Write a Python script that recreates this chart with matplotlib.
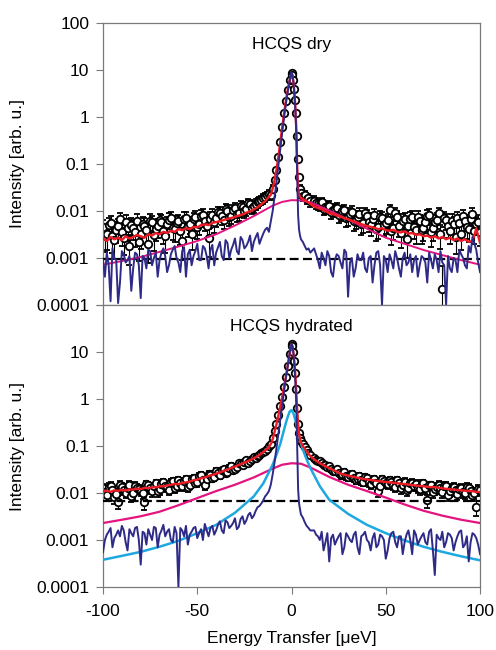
import matplotlib
matplotlib.use("Agg")
import matplotlib.pyplot as plt
import numpy as np

plt.rcParams["font.family"] = ["Liberation Sans", "DejaVu Sans"]
plt.rcParams["font.size"] = 12.5
plt.rcParams["axes.unicode_minus"] = False

# energy grid of the spectra (ueV): 2 ueV steps in the wings, finer at the elastic line
energy = np.concatenate([
    np.arange(-100, -11, 2), np.arange(-11, 0, 1), np.arange(0, 5.5, 0.5),
    np.arange(6, 11, 1), np.arange(12, 101, 2),
])
# the interleaved odd channels of the wings (-99 .. -13 and 13 .. 99)
energy_odd = np.concatenate([np.arange(-99, -12, 2), np.arange(13, 100, 2)])

# ---- HCQS dry: wings in units of 1e-3, centre (-11 .. 10 ueV) absolute ----
dry_data_left = [4.5, 3.2, 5.5, 2.4, 4.8, 3.6, 5.9, 1.8, 4.4, 6.2,
                 3.3, 4.9, 2.0, 5.7, 4.2, 6.4, 3.8, 5.2, 7.0, 4.1,
                 6.0, 2.3, 7.2, 5.4, 6.8, 4.6, 7.9, 6.1, 2.6, 8.3,
                 7.0, 9.1, 6.5, 10.2, 8.0, 11.3, 9.0, 12.4, 10.8, 13.9,
                 12.6, 15.5, 17.0, 19.8, 23.0]
dry_data_mid = [0.022, 0.030, 0.045, 0.075, 0.14, 0.30, 0.62, 1.2, 2.2, 3.8, 6.0,
                8.6, 7.9, 6.1, 4.0, 2.3, 1.2, 0.40, 0.13, 0.052, 0.030, 0.024,
                0.021, 0.022, 0.018, 0.019, 0.016]
dry_data_right = [16.5, 14.0, 15.2, 12.1, 13.0, 10.4, 11.8, 8.9, 10.5, 7.4,
                  9.6, 6.5, 8.7, 5.6, 7.9, 5.0, 8.3, 4.6, 7.2, 5.5,
                  10.5, 4.4, 7.5, 3.4, 6.6, 4.8, 7.3, 3.9, 6.0, 4.3,
                  7.8, 3.5, 5.9, 9.0, 0.22, 6.3, 3.8, 5.4, 7.1, 3.2,
                  6.0, 4.1, 8.6, 5.2, 3.6]
dry_data_odd_left = [3.0, 5.1, 2.9, 4.0, 6.6, 2.7, 4.3, 5.0, 3.5, 2.2,
                     5.4, 3.9, 6.1, 3.1, 4.7, 5.8, 2.9, 6.5, 4.4, 5.6,
                     3.7, 6.9, 4.9, 3.2, 7.6, 5.3, 8.4, 4.8, 6.9, 5.7,
                     9.4, 7.7, 11.0, 7.3, 10.6, 8.6, 12.9, 10.0, 14.6, 11.8,
                     14.2, 16.4, 18.5, 21.5]
dry_data_odd_right = [14.8, 13.6, 11.2, 12.4, 9.6, 11.0, 8.2, 9.9, 7.0, 8.8,
                      6.0, 7.4, 5.3, 9.0, 5.9, 6.8, 4.2, 7.6, 5.0, 6.4,
                      3.7, 8.9, 4.9, 6.1, 2.5, 6.9, 4.6, 7.4, 3.9, 5.7,
                      8.2, 4.3, 6.5, 3.3, 7.2, 4.8, 6.2, 2.8, 5.5, 8.0,
                      4.5, 6.8, 3.8, 5.9]

dry_fit_left = [2.6, 2.3, 2.8, 2.5, 2.7, 2.4, 2.9, 2.6, 2.8, 3.1,
                2.9, 2.7, 3.2, 3.0, 3.4, 3.2, 3.6, 3.4, 3.8, 3.6,
                4.1, 3.9, 4.3, 4.1, 4.6, 4.5, 5.0, 5.2, 5.0, 5.6,
                5.8, 6.1, 6.4, 6.8, 7.1, 7.5, 8.0, 8.4, 9.2, 9.8,
                10.8, 12.0, 13.8, 16.2, 20.0]
dry_fit_mid = [0.022, 0.030, 0.045, 0.075, 0.14, 0.28, 0.58, 1.15, 2.2, 3.8, 6.0,
               8.4, 7.6, 5.6, 3.4, 1.7, 0.6, 0.09, 0.030, 0.022, 0.020, 0.019,
               0.018, 0.017, 0.016, 0.015, 0.014]
dry_fit_right = [12.5, 11.6, 10.9, 10.0, 9.0, 8.6, 8.0, 7.6, 7.0, 6.7,
                 6.2, 5.9, 5.4, 5.1, 4.8, 4.6, 4.4, 4.1, 4.3, 3.9,
                 3.8, 4.0, 3.6, 3.5, 3.7, 3.3, 3.4, 3.1, 3.2, 2.9,
                 3.0, 2.7, 2.9, 2.6, 2.8, 2.5, 2.7, 2.4, 2.6, 2.3,
                 2.5, 2.2, 2.3, 4.2, 2.1]

dry_res_left = [0.9, 1.3, 0.12, 1.0, 0.11, 1.4, 0.8, 1.1, 0.6, 1.2,
                0.14, 1.0, 1.5, 0.7, 1.3, 0.9, 1.6, 0.5, 1.2, 1.8,
                0.8, 1.4, 0.4, 1.5, 1.1, 2.0, 0.9, 1.6, 0.6, 1.9,
                1.3, 2.2, 0.9, 2.1, 1.5, 2.6, 1.2, 2.4, 1.8, 3.0,
                2.2, 3.4, 2.6, 4.0, 3.6]
dry_res_mid = [0.006, 0.010, 0.020, 0.040, 0.09, 0.20, 0.45, 0.95, 1.9, 3.5, 6.0,
               9.0, 8.0, 5.5, 3.2, 1.5, 0.5, 0.06, 0.008, 0.004, 0.003, 0.0025,
               0.0022, 0.0018, 0.0015, 0.0016, 0.0013]
dry_res_right = [1.6, 0.9, 1.3, 0.7, 1.1, 0.4, 1.2, 0.8, 1.5, 0.15,
                 1.0, 0.6, 0.9, 1.3, 0.5, 1.1, 0.7, 1.4, 0.10, 0.9,
                 1.2, 0.6, 1.0, 0.4, 1.3, 0.8, 0.5, 1.1, 0.7, 1.0,
                 0.3, 0.9, 1.2, 0.5, 0.8, 0.10, 0.6, 1.0, 0.5, 1.2,
                 0.7, 1.8, 2.8, 1.5, 0.5]
dry_res_odd_left = [0.4, 0.7, 1.6, 0.9, 0.3, 1.2, 0.9, 0.2, 1.3, 0.7,
                    1.1, 0.6, 1.4, 1.0, 0.4, 1.3, 1.1, 0.7, 1.5, 1.0,
                    0.5, 1.7, 1.2, 0.7, 1.4, 0.9, 1.8, 1.1, 1.5, 0.7,
                    1.7, 1.1, 2.4, 1.0, 1.9, 1.4, 2.8, 1.6, 2.2, 1.4,
                    2.8, 2.0, 3.3, 4.4]
dry_res_odd_right = [1.2, 0.6, 1.0, 1.4, 0.5, 0.9, 1.1, 0.6, 1.3, 0.8,
                     0.4, 1.2, 0.9, 0.6, 1.0, 0.3, 1.3, 0.7, 1.1, 0.5,
                     0.9, 1.4, 0.6, 1.0, 0.7, 1.2, 0.9, 0.4, 1.1, 0.8,
                     1.3, 0.6, 0.9, 1.4, 0.7, 1.1, 0.5, 0.9, 1.5, 1.0,
                     0.6, 1.3, 2.0, 0.8]

# ---- HCQS hydrated ----
hyd_data_left = [12.5, 9.0, 14.0, 8.2, 6.5, 13.5, 10.2, 15.0, 9.8, 13.0,
                 11.2, 6.3, 14.5, 11.0, 16.2, 12.0, 17.0, 13.2, 16.8, 12.8,
                 18.5, 14.0, 19.5, 15.0, 21.0, 17.0, 24.0, 14.5, 26.0, 21.0,
                 29.0, 24.0, 32.0, 28.0, 38.0, 33.0, 43.0, 39.0, 50.0, 47.0,
                 58.0, 60.0, 72.0, 80.0, 98.0]
hyd_data_mid = [0.11, 0.15, 0.21, 0.30, 0.45, 0.70, 1.1, 1.8, 3.0, 5.0, 9.0,
                15.0, 13.5, 10.0, 6.5, 3.5, 1.6, 0.65, 0.30, 0.19, 0.15, 0.13,
                0.11, 0.095, 0.082, 0.072, 0.064]
hyd_data_right = [55, 49, 43, 39, 37, 30, 32, 24, 28, 22,
                  25, 19, 23, 17.5, 21, 15.5, 20, 11.0, 19.5, 16,
                  18.5, 14.5, 19, 12.5, 17.5, 13.0, 16.5, 15.5, 12.0, 16.0,
                  7.0, 14.5, 12.0, 15.0, 10.5, 14.0, 11.0, 13.5, 9.5, 12.5,
                  10.0, 13.0, 9.0, 5.0, 11.5]
hyd_data_odd_left = [10.5, 13.2, 11.8, 9.5, 14.8, 11.6, 12.6, 8.8, 14.0, 12.2,
                     10.0, 15.2, 12.5, 13.8, 10.9, 15.6, 14.2, 11.6, 17.8, 14.4,
                     16.0, 17.8, 13.6, 19.6, 16.5, 22.5, 18.8, 20.2, 24.5, 22.0,
                     27.0, 30.5, 27.0, 34.5, 31.0, 36.0, 41.0, 45.0, 44.0, 53.0,
                     56.0, 64.0, 76.0, 88.0]
hyd_data_odd_right = [51, 47, 40, 36, 33, 29, 27, 26, 23, 24,
                      21, 20, 18.5, 22, 17, 19, 16.5, 14.0, 18, 15.5,
                      17.5, 13.5, 16.5, 15, 11.5, 16, 14, 13, 15.5, 12.5,
                      14.5, 10.5, 13.5, 12.5, 14.0, 9.0, 13, 11.5, 12.0, 10.5,
                      13.5, 11.0, 10.0, 12.0]

hyd_fit_left = [10.8, 11.2, 10.6, 11.4, 11.1, 11.7, 11.3, 12.0, 11.8, 12.4,
                12.1, 12.9, 12.6, 13.3, 13.2, 14.0, 13.8, 14.6, 14.9, 15.6,
                15.4, 16.4, 16.8, 17.5, 18.6, 19.3, 20.6, 21.5, 23.0, 24.2,
                25.8, 27.5, 29.5, 31.5, 34.0, 36.5, 39.5, 42.5, 46.0, 50.0,
                55.0, 61.0, 69.0, 80.0, 95.0]
hyd_fit_mid = [0.11, 0.14, 0.20, 0.29, 0.44, 0.68, 1.08, 1.8, 3.0, 5.1, 9.0,
               14.6, 13.2, 9.8, 6.2, 3.4, 1.5, 0.62, 0.29, 0.18, 0.14, 0.12,
               0.10, 0.088, 0.077, 0.068, 0.061]
hyd_fit_right = [52, 46, 41, 37, 34, 31, 28.5, 26, 24.5, 23.5,
                 22.5, 21.5, 20.8, 20.0, 19.5, 19.0, 18.4, 18.0, 17.6, 17.2,
                 16.9, 16.5, 16.2, 15.8, 15.5, 15.1, 14.8, 14.4, 14.2, 13.9,
                 13.6, 13.3, 13.4, 12.9, 12.6, 12.3, 12.0, 11.9, 11.6, 11.4,
                 11.2, 11.0, 10.9, 10.6, 10.5]

hyd_res_left = [0.55, 1.3, 1.8, 1.1, 1.6, 2.0, 0.9, 1.7, 1.2, 1.9,
                0.30, 1.4, 1.7, 1.0, 1.8, 1.3, 2.1, 1.5, 1.0, 1.9,
                0.10, 1.6, 2.0, 1.3, 1.8, 1.1, 1.7, 2.2, 1.2, 2.0,
                1.6, 2.5, 1.4, 2.4, 2.0, 2.9, 1.9, 3.2, 2.6, 3.8,
                3.3, 5.0, 6.0, 8.5, 11.0]
hyd_res_mid = [0.015, 0.025, 0.045, 0.09, 0.18, 0.35, 0.7, 1.4, 2.8, 5.2, 9.5,
               15.0, 13.5, 9.5, 5.5, 2.5, 0.8, 0.1, 0.012, 0.006, 0.0045, 0.0035,
               0.0030, 0.0024, 0.0020, 0.0018, 0.0016]
hyd_res_right = [1.6, 1.2, 1.5, 0.9, 0.35, 1.3, 1.0, 1.4, 0.7, 1.2,
                 0.9, 1.5, 0.5, 1.3, 1.0, 0.6, 1.4, 0.8, 1.2, 0.4,
                 1.1, 1.5, 0.7, 1.2, 0.9, 1.6, 0.5, 1.3, 1.0, 1.4,
                 0.8, 1.7, 0.18, 1.1, 1.5, 0.9, 1.3, 0.6, 1.2, 1.6,
                 0.8, 0.35, 1.4, 1.1, 0.5]
hyd_res_odd_left = [1.0, 1.5, 0.7, 1.3, 1.2, 1.6, 0.6, 1.4, 1.8, 1.0,
                    1.5, 0.8, 1.3, 1.9, 0.7, 1.6, 1.2, 1.7, 0.9, 1.4,
                    1.8, 1.2, 0.8, 1.5, 1.9, 1.4, 1.0, 1.6, 1.8, 1.3,
                    2.1, 1.6, 2.6, 1.8, 2.3, 1.7, 2.8, 2.2, 3.4, 2.9,
                    4.2, 5.3, 7.0, 9.5]
hyd_res_odd_right = [1.3, 1.0, 0.6, 1.4, 1.1, 0.8, 1.2, 0.5, 1.4, 1.0,
                     1.3, 0.7, 1.2, 1.5, 0.9, 1.1, 0.7, 1.3, 1.0, 0.6,
                     1.4, 0.9, 1.2, 0.5, 1.3, 1.0, 1.6, 0.8, 1.2, 0.9,
                     1.5, 0.6, 1.3, 1.0, 0.7, 1.4, 1.1, 0.9, 1.5, 0.7,
                     1.2, 0.9, 1.3, 0.8]

# ---- model components (smooth curves) ----
broad_energy = [-100, -90, -80, -70, -60, -50, -40, -30, -20, -10, -5, 0,
                5, 10, 20, 30, 40, 50, 60, 70, 80, 90, 100]
dry_broad = [7.2e-4, 8.6e-4, 1.05e-3, 1.35e-3, 1.75e-3, 2.3e-3, 3.2e-3, 4.9e-3,
             7.8e-3, 0.0130, 0.0156, 0.0170, 0.0168, 0.0152, 0.0102, 0.0066,
             0.0042, 0.0027, 0.0020, 0.00148, 0.00115, 9.0e-4, 7.2e-4]
hyd_broad = [0.0023, 0.0027, 0.0032, 0.0040, 0.0055, 0.0078, 0.0110, 0.0150,
             0.0215, 0.033, 0.040, 0.043, 0.042, 0.035, 0.022, 0.0150, 0.0110,
             0.0080, 0.0057, 0.0042, 0.0033, 0.0027, 0.0023]

narrow_energy = [-100, -90, -80, -70, -60, -50, -40, -30, -20, -15, -10, -8, -6,
                 -4, -3, -2, -1, 0, 1, 2, 3, 4, 6, 8, 10, 15, 20, 30, 40, 50,
                 60, 70, 80, 90, 100]
hyd_narrow = [3.8e-4, 4.6e-4, 5.6e-4, 7.2e-4, 9.6e-4, 1.40e-3, 2.1e-3, 3.8e-3,
              8.5e-3, 0.016, 0.040, 0.065, 0.11, 0.22, 0.31, 0.42, 0.54, 0.58,
              0.50, 0.36, 0.24, 0.16, 0.085, 0.052, 0.034, 0.014, 0.0072,
              0.0036, 0.0021, 0.00140, 0.00098, 0.00072, 0.00056, 0.00045,
              0.00037]

dry_background = 9.5e-4
hyd_background = 6.9e-3
dry_err_scale = 0.03
hyd_err_scale = 0.025

y_ticks = [1e-4, 1e-3, 1e-2, 1e-1, 1, 10, 100]
y_tick_labels = ["0.0001", "0.001", "0.01", "0.1", "1", "10", "100"]
x_ticks = [-100, -50, 0, 50, 100]

RED = "#ee1c25"
MAGENTA = "#e5137f"
NAVY = "#2e2a87"
CYAN = "#1ea8e0"
FRAME = "#7a7a7a"


def spectrum(left, mid, right):
    values = np.concatenate([np.array(left) * 1e-3, mid, np.array(right) * 1e-3])
    assert len(values) == len(energy), len(values)
    return values


def with_odd(values, odd_left, odd_right):
    """Merge the even-grid series with the interleaved odd wing channels."""
    odd = np.concatenate([odd_left, odd_right]) * 1e-3
    assert len(odd) == len(energy_odd), len(odd)
    x = np.concatenate([energy, energy_odd])
    order = np.argsort(x, kind="stable")
    return x[order], np.concatenate([values, odd])[order]


def draw_panel(ax, title, data, fit, res, background, err_scale, components):
    x_data, y_data = data
    err = err_scale * np.sqrt(y_data)
    lower = np.minimum(err, 0.6 * y_data)
    ax.errorbar(x_data, y_data, yerr=[lower, err], fmt="o", ms=5.4, mfc="white",
                mec="black", mew=1.3, ecolor="black", elinewidth=0.8,
                capsize=2.5, capthick=0.8, zorder=2)
    ax.axhline(background, color="black", lw=1.6, ls=(0, (4, 2)), zorder=3)
    for xs, ys, color, lw in components:
        ax.plot(xs, ys, color=color, lw=lw, zorder=4)
    ax.plot(energy, fit, color=RED, lw=1.7, zorder=5)
    ax.plot(res[0], res[1], color=NAVY, lw=1.4, zorder=6)

    ax.set_yscale("log")
    ax.set_ylim(1e-4, 100)
    ax.set_xlim(-100, 100)
    ax.minorticks_off()
    ax.set_yticks(y_ticks, labels=y_tick_labels)
    ax.set_xticks(x_ticks)
    ax.set_ylabel("Intensity [arb. u.]", labelpad=8)
    ax.text(0.5, 0.923, title, transform=ax.transAxes, ha="center", va="center")
    ax.tick_params(direction="out", length=5, width=0.8, color=FRAME, pad=5)
    ax.tick_params(axis="x", pad=7)
    for spine in ax.spines.values():
        spine.set_color(FRAME)
        spine.set_linewidth(0.9)


def main() -> None:
    fig = plt.figure(figsize=(4.96, 6.5), dpi=100)
    ax_top = fig.add_axes([0.2077, 0.5308, 0.7601, 0.4338])
    ax_bot = fig.add_axes([0.2077, 0.0969, 0.7601, 0.4338])

    draw_panel(ax_top, "HCQS dry",
               with_odd(spectrum(dry_data_left, dry_data_mid, dry_data_right),
                        dry_data_odd_left, dry_data_odd_right),
               spectrum(dry_fit_left, dry_fit_mid, dry_fit_right),
               with_odd(spectrum(dry_res_left, dry_res_mid, dry_res_right),
                        dry_res_odd_left, dry_res_odd_right),
               dry_background, dry_err_scale,
               [(broad_energy, dry_broad, MAGENTA, 1.4)])
    draw_panel(ax_bot, "HCQS hydrated",
               with_odd(spectrum(hyd_data_left, hyd_data_mid, hyd_data_right),
                        hyd_data_odd_left, hyd_data_odd_right),
               spectrum(hyd_fit_left, hyd_fit_mid, hyd_fit_right),
               with_odd(spectrum(hyd_res_left, hyd_res_mid, hyd_res_right),
                        hyd_res_odd_left, hyd_res_odd_right),
               hyd_background, hyd_err_scale,
               [(broad_energy, hyd_broad, MAGENTA, 1.6),
                (narrow_energy, hyd_narrow, CYAN, 1.8)])

    ax_top.tick_params(axis="x", bottom=False, labelbottom=False)
    ax_bot.set_yticks(y_ticks, labels=y_tick_labels[:-1] + [""])
    ax_bot.set_xlabel("Energy Transfer [\u03bceV]", labelpad=9)

    fig.savefig("out.png", dpi=100)


if __name__ == "__main__":
    main()
